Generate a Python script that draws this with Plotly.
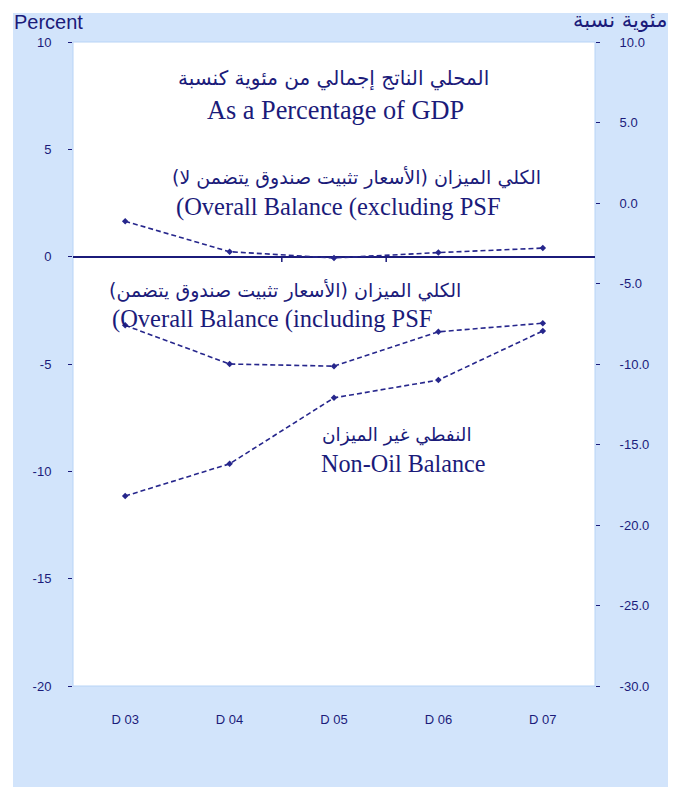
import plotly.graph_objects as go

# page offset of the plot div (browser default body margin)
OFF = 8
W, H = 684 - OFF, 787 - OFF
# plot area in screenshot pixels
L, R, T, B = 73, 595, 42, 686

categories = ["D 03", "D 04", "D 05", "D 06", "D 07"]
overall_excl_psf = [1.65, 0.23, -0.06, 0.19, 0.40]
overall_incl_psf = [-3.2, -5.0, -5.1, -3.5, -3.1]
non_oil_balance = [-18.2, -16.2, -12.1, -11.0, -7.95]

left_ticks = [10, 5, 0, -5, -10, -15, -20]
right_ticks = [10, 5, 0, -5, -10, -15, -20, -25, -30]

# Arabic labels, written with the word order exactly as it appears in the picture
# (the reference shows the Arabic words laid out left-to-right)
title_ar = "المحلي الناتج إجمالي من مئوية كنسبة"
excl_ar = "(الأسعار تثبيت صندوق يتضمن لا) الكلي الميزان"
incl_ar = "(الأسعار تثبيت صندوق يتضمن) الكلي الميزان"
nonoil_ar = "النفطي غير الميزان"
right_title_ar = "مئوية نسبة"

NAVY = "#1b1b7a"
LINE = "#26268c"
BLUE_BG = "#d2e4fb"


def px(x):
    return (x - L) / (R - L)


def py(y):
    return (B - y) / (B - T)


fig = go.Figure()

line_style = dict(color=LINE, width=1.6, dash="5px,3px")
marker_style = dict(symbol="diamond", size=5, color=LINE)

fig.add_trace(go.Scatter(x=categories, y=overall_excl_psf, mode="lines+markers",
                         line=line_style, marker=marker_style, name="excl", yaxis="y"))
fig.add_trace(go.Scatter(x=categories, y=overall_incl_psf, mode="lines+markers",
                         line=line_style, marker=marker_style, name="incl", yaxis="y"))
fig.add_trace(go.Scatter(x=categories, y=non_oil_balance, mode="lines+markers",
                         line=line_style, marker=marker_style, name="nonoil", yaxis="y2"))

shapes = [
    dict(type="rect", xref="paper", yref="paper", x0=px(13), x1=px(668), y0=py(800), y1=py(13),
         fillcolor=BLUE_BG, line=dict(width=0), layer="below"),
    dict(type="rect", xref="paper", yref="paper", x0=0, x1=1, y0=0, y1=1,
         fillcolor="white", line=dict(color="#b8d4f6", width=1), layer="below"),
]
for b in [1.5, 2.5]:
    shapes.append(dict(type="line", xref="x", yref="y", x0=b, x1=b, y0=0, y1=-0.25,
                       line=dict(color=NAVY, width=1.5)))

serif = "Liberation Serif, Times New Roman, serif"
arfont = "DejaVu Sans, Noto Sans, sans-serif"
sans = "Liberation Sans, Arial, sans-serif"

annotations = [
    dict(text=title_ar, x=px(333), y=py(78),
         xanchor="center", font=dict(family=arfont, size=20, color=NAVY)),
    dict(text="As a Percentage of GDP", x=px(335), y=py(111),
         xanchor="center", font=dict(family=serif, size=26.3, color=NAVY)),
    dict(text=excl_ar, x=px(170), y=py(178),
         xanchor="left", font=dict(family=arfont, size=19, color=NAVY)),
    dict(text="(Overall Balance (excluding PSF", x=px(174), y=py(207),
         xanchor="left", font=dict(family=serif, size=24.5, color=NAVY)),
    dict(text=incl_ar, x=px(107), y=py(290),
         xanchor="left", font=dict(family=arfont, size=19, color=NAVY)),
    dict(text="(Overall Balance (including PSF", x=px(110), y=py(319),
         xanchor="left", font=dict(family=serif, size=24.5, color=NAVY)),
    dict(text=nonoil_ar, x=px(320), y=py(435),
         xanchor="left", font=dict(family=arfont, size=18.5, color=NAVY)),
    dict(text="Non-Oil Balance", x=px(319), y=py(463),
         xanchor="left", font=dict(family=serif, size=24.2, color=NAVY)),
    dict(text="Percent", x=px(12), y=py(22), xanchor="left",
         font=dict(family=sans, size=20, color=NAVY)),
    dict(text=right_title_ar, x=px(669), y=py(20), xanchor="right",
         font=dict(family=arfont, size=21, color=NAVY)),
]
for a in annotations:
    a.update(xref="paper", yref="paper", yanchor="middle", showarrow=False)

tickfont = dict(family=sans, size=13, color=NAVY)

fig.update_layout(
    width=W, height=H,
    margin=dict(l=L - OFF, r=W - (R - OFF), t=T - OFF, b=H - (B - OFF), pad=0),
    paper_bgcolor="white",
    plot_bgcolor="rgba(0,0,0,0)",
    showlegend=False,
    shapes=shapes,
    annotations=annotations,
    xaxis=dict(type="category", range=[-0.5, 4.5], showgrid=False, showline=False,
               zeroline=False, ticks="", tickfont=tickfont, ticklabelstandoff=24),
    yaxis=dict(range=[-20, 10], tickvals=left_ticks, ticktext=[str(v) for v in left_ticks],
               showgrid=False, showline=False, zeroline=True, zerolinecolor=NAVY,
               zerolinewidth=1.6, ticks="outside", ticklen=4, tickcolor=NAVY,
               tickfont=tickfont, ticklabelstandoff=14),
    yaxis2=dict(range=[-30, 10], overlaying="y", side="right",
                tickvals=right_ticks, ticktext=[f"{v:.1f}" for v in right_ticks],
                showgrid=False, showline=False, zeroline=False, ticks="outside",
                ticklen=4, tickcolor=NAVY, tickfont=tickfont, ticklabelstandoff=17),
)

fig.write_html("out.html")
